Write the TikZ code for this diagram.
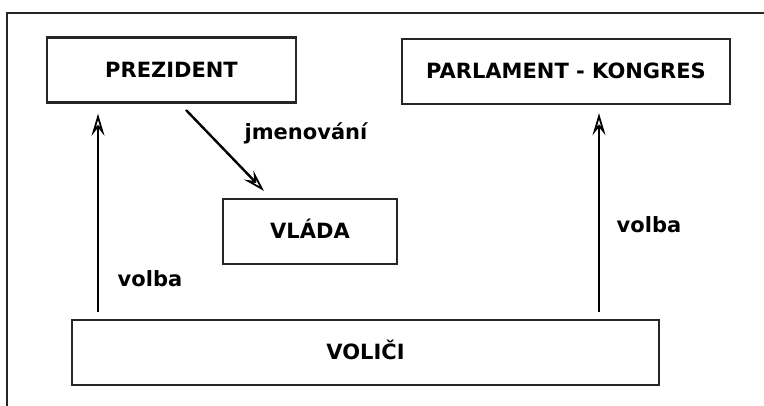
\documentclass[tikz,border=0pt]{standalone}
\usepackage{fontspec}
\setmainfont{DejaVu Sans}
\usetikzlibrary{arrows.meta}
\begin{document}
\begin{tikzpicture}[x=1pt,y=-1pt,
  every node/.style={font=\fontsize{21}{25}\selectfont\bfseries},
  box/.style={draw=black!85,line width=2.4pt,inner sep=0pt,minimum height=65pt,
    text height=15pt,text depth=0pt,fill=white},
  lbl/.style={anchor=base,inner sep=0pt},
  arr/.style={line width=2.4pt,-{Stealth[open,length=22pt,width=13pt,inset=8pt,line width=1.8pt]}}]
\useasboundingbox (0,0) rectangle (764,406);
\clip (0,0) rectangle (764,406);
\fill[white] (0,0) rectangle (764,406);
\draw[line width=2.4pt,draw=black!85] (7,13) rectangle (790,430);
\node[box,minimum width=249pt] (prez) at (171.5,70) {PREZIDENT};
\node[box,minimum width=328pt] (parl) at (566,71.5) {PARLAMENT - KONGRES};
\node[box,minimum width=174pt] (vlada) at (310,231.5) {VLÁDA};
\node[box,minimum width=587pt] (volici) at (365.5,352.5) {VOLIČI};
\coordinate (lfoot) at (98,312);
\coordinate (rfoot) at (599,312);
\coordinate (dstart) at (186,110);
\draw[arr,shorten >=10pt] (lfoot) -- (lfoot |- prez.south);
\draw[arr,shorten >=8pt] (rfoot) -- (rfoot |- parl.south);
\draw[arr] (dstart) -- (264,191) coordinate (dtip);
\node[lbl] (jm) at (306,140) {jmenování};
\node[lbl] (v1) at (150,287) {volba};
\node[lbl] (v2) at (649,233) {volba};
\end{tikzpicture}
\end{document}
